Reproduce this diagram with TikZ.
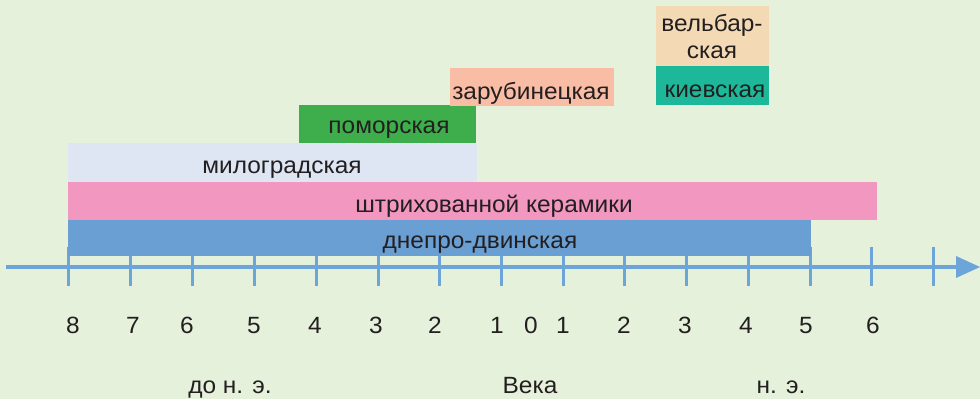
\documentclass[tikz,border=0pt]{standalone}
\usepackage{fontspec}
\setmainfont{Liberation Sans}[FakeStretch=1.04]
\definecolor{bg}{HTML}{E5F1DB}
\definecolor{axisc}{HTML}{6CA5DA}
\definecolor{dnepr}{HTML}{6A9FD4}
\definecolor{shtrih}{HTML}{F197C0}
\definecolor{milog}{HTML}{DDE6F2}
\definecolor{pomor}{HTML}{3DAE4B}
\definecolor{zarub}{HTML}{F9BDA5}
\definecolor{kiev}{HTML}{1DB89A}
\definecolor{velb}{HTML}{F3DAB4}
\definecolor{txt}{HTML}{231F20}
\begin{document}
\begin{tikzpicture}[x=1bp,y=-1bp,
  lbl/.style={anchor=base, inner sep=0pt, text=txt, font=\fontsize{23.5bp}{27bp}\selectfont},
  bar/.style={draw=none, inner sep=0pt, outer sep=0pt, anchor=north west},
  axisline/.style={draw=axisc, line width=4.5bp},
  tick/.style={draw=axisc, line width=3bp}]
\fill[bg] (0,0) rectangle (980,399);
\useasboundingbox (0,0) rectangle (980,399);
% axis
\coordinate (axstart) at (6,267);
\coordinate (axend) at (958,267);
\draw[axisline] (axstart) -- (axend);
\fill[axisc] (956,256) -- (980,267) -- (956,278) -- cycle;
\foreach \x in {68,130,192,254,316,378,439.5,501,563,624,686,748,810,871,933}
  \draw[tick] (\x,247) -- (\x,286);
% bars
\node[bar, fill=dnepr, minimum width=743bp, minimum height=36bp] (bdnepr) at (68,220) {};
\node[bar, fill=shtrih, minimum width=809bp, minimum height=38bp] (bshtrih) at (68,182) {};
\node[bar, fill=milog, minimum width=409bp, minimum height=39bp] (bmilog) at (68,143) {};
\node[bar, fill=pomor, minimum width=177bp, minimum height=38bp] (bpomor) at (299,105) {};
\node[bar, fill=zarub, minimum width=164bp, minimum height=38bp] (bzarub) at (450,68) {};
\node[bar, fill=kiev, minimum width=113bp, minimum height=39bp] (bkiev) at (656,66) {};
\node[bar, fill=velb, minimum width=113bp, minimum height=60bp] (bvelb) at (656,6) {};
% bar labels
\node[lbl] (tdnepr) at (480,248) {днепро-двинская};
\node[lbl] (tshtrih) at (494,212) {штрихованной керамики};
\node[lbl] (tmilog) at (282,173) {милоградская};
\node[lbl] (tpomor) at (389,133) {поморская};
\node[lbl] (tzarub) at (531,99) {зарубинецкая};
\node[lbl] (tkiev) at (715,97.5) {киевская};
\node[lbl] (tvelb1) at (712,31) {вельбар-};
\node[lbl] (tvelb2) at (712,58) {ская};
% numbers
\foreach \x/\t/\n in {73/8/a,133/7/b,187/6/c,254/5/d,315/4/e,376/3/f,435/2/g,497/1/h,531/0/i,563/1/j,624/2/k,685/3/l,746/4/m,806/5/n,873/6/o}
  \node[lbl] (num\n) at (\x,333) {\t};
% bottom labels
\node[lbl] (bc) at (230,393) {до н. э.};
\node[lbl] (veka) at (530,393) {Века};
\node[lbl] (ad) at (781,393) {н. э.};
\end{tikzpicture}
\end{document}
